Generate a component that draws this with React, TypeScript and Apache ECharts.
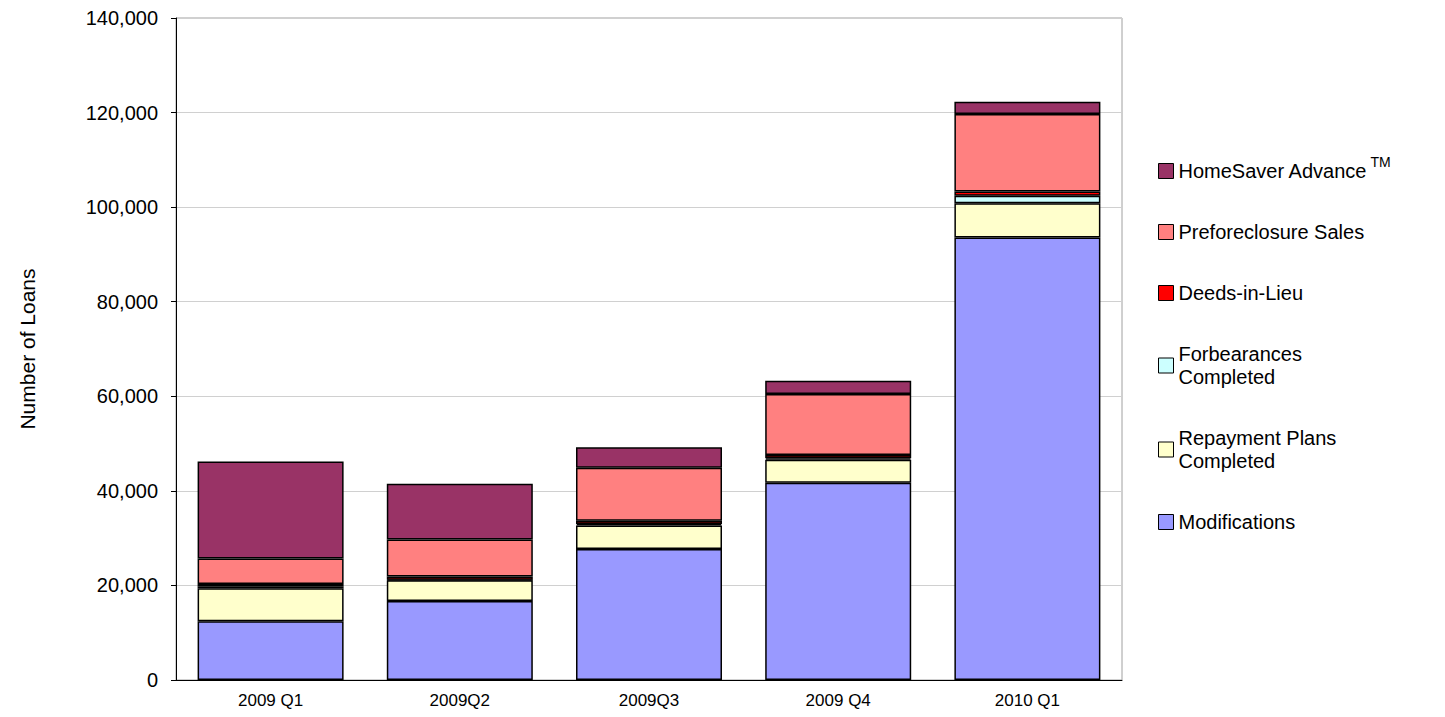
import React, { useEffect, useRef } from 'react'
import * as echarts from 'echarts'

const categories = ['2009 Q1', '2009Q2', '2009Q3', '2009 Q4', '2010 Q1']
const modifications = [12400, 16700, 27700, 41700, 93600]
const repaymentPlans = [7000, 4400, 5000, 4900, 7200]
const forbearances = [400, 100, 300, 300, 1600]
const deedsInLieu = [500, 700, 700, 700, 900]
const preforeclosure = [5400, 7800, 11200, 12900, 16400]
const homeSaver = [20500, 11800, 4300, 2800, 2600]

const App: React.FC = () => {
  const chartRef = useRef<HTMLDivElement>(null)

  useEffect(() => {
    if (!chartRef.current) return
    const chart = echarts.init(chartRef.current, undefined, { renderer: 'svg' })

    const mk = (name: string, data: number[], color: string) => ({
      name,
      type: 'bar',
      stack: 'total',
      barWidth: 146,
      data,
      itemStyle: { color, borderColor: '#000', borderWidth: 1.5 }
    })

    const font = 'Liberation Sans, Arial, sans-serif'

    chart.setOption({
      animation: false,
      textStyle: { fontFamily: font },
      grid: { left: 168, right: 315, top: 8, bottom: 29, show: true, borderColor: '#a0a0a0', borderWidth: 1 },
      legend: {
        orient: 'vertical',
        left: 1145,
        top: 142,
        itemWidth: 15,
        itemHeight: 15,
        itemGap: 38,
        icon: 'rect',
        itemStyle: { borderColor: '#000', borderWidth: 1 },
        data: ['HomeSaver Advance', 'Preforeclosure Sales', 'Deeds-in-Lieu', 'Forbearances\nCompleted', 'Repayment Plans\nCompleted', 'Modifications'],
        formatter: (n: string) => (n === 'HomeSaver Advance' ? n + '{sup|TM}' : n),
        textStyle: {
          fontSize: 20,
          color: '#000',
          lineHeight: 23,
          fontFamily: font,
          rich: { sup: { fontSize: 14, padding: [0, 0, 18, 3], fontFamily: font, color: '#000' } }
        }
      },
      xAxis: {
        type: 'category',
        data: categories,
        axisLine: { lineStyle: { color: '#000' } },
        axisTick: { show: false },
        axisLabel: { fontSize: 17, color: '#000', margin: 12, fontFamily: font }
      },
      yAxis: {
        type: 'value',
        min: 0,
        max: 140000,
        interval: 20000,
        name: 'Number of Loans',
        nameLocation: 'middle',
        nameGap: 138,
        nameTextStyle: { fontSize: 21, color: '#000', fontFamily: font },
        axisLine: { show: true, lineStyle: { color: '#000' } },
        axisTick: { show: true, length: 5, lineStyle: { color: '#000' } },
        splitLine: { lineStyle: { color: '#d0d0d0', width: 1 } },
        axisLabel: {
          fontSize: 20,
          color: '#000',
          margin: 18,
          fontFamily: font,
          formatter: (v: number) => v.toLocaleString('en-US')
        }
      },
      series: [
        mk('Modifications', modifications, '#9999ff'),
        mk('Repayment Plans\nCompleted', repaymentPlans, '#ffffcc'),
        mk('Forbearances\nCompleted', forbearances, '#ccffff'),
        mk('Deeds-in-Lieu', deedsInLieu, '#ff0000'),
        mk('Preforeclosure Sales', preforeclosure, '#ff8080'),
        mk('HomeSaver Advance', homeSaver, '#993366')
      ]
    })

    return () => chart.dispose()
  }, [])

  return <div ref={chartRef} style={{ width: 1429, height: 701 }} />
}

export default App
